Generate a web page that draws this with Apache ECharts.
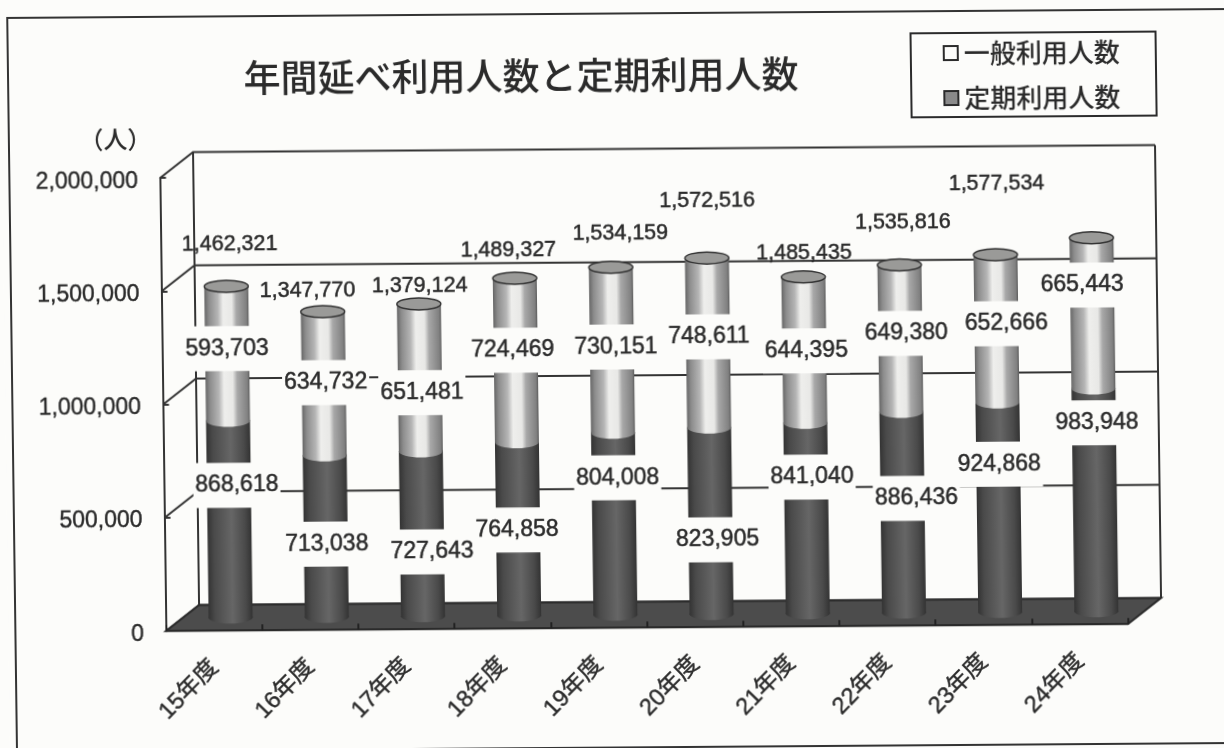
<!DOCTYPE html>
<html>
<head>
<meta charset="utf-8" />
<title>年間延べ利用人数と定期利用人数</title>
<script src="https://cdn.jsdelivr.net/npm/echarts@6/dist/echarts.min.js"></script>
<style>
  html, body { margin: 0; padding: 0; width: 1224px; height: 748px; overflow: hidden; background: #fcfcfa; }
  /* the scan is slightly crooked, so the whole drawing leans with it */
  #chart { width: 1300px; height: 790px; transform-origin: 0 0; transform: matrix(1, -0.0073, 0.0133, 1, 0, 0); }
</style>
</head>
<body>
<div id="chart"></div>
<script>
const categories = ["15年度", "16年度", "17年度", "18年度", "19年度", "20年度", "21年度", "22年度", "23年度", "24年度"];
const teikiValues = [868618, 713038, 727643, 764858, 804008, 823905, 841040, 886436, 924868, 983948];
const ippanValues = [593703, 634732, 651481, 724469, 730151, 748611, 644395, 649380, 652666, 665443];
// the last year has no total printed in the picture
const totalValues = [1462321, 1347770, 1379124, 1489327, 1534159, 1572516, 1485435, 1535816, 1577534, null];
const yTicks = [0, 500000, 1000000, 1500000, 2000000];

// label offsets in px, each from the bar centre / middle of its segment / top of the bar
const teikiOffsets = [[8, -34], [1, 8], [10, 18], [-1, 1], [4, -46], [7, 19], [6, -41], [14, -14], [1, -43], [3, -77]];
const ippanOffsets = [[0, -5], [2, -1], [2, 15], [-3, -10], [4, -3], [1, -6], [2, 1], [6, -5], [10, -5], [-10, -28]];
const totalOffsets = [[4, -42], [-15, -21], [1, -18], [-6, -28], [10, -34], [1, -57], [1, -24], [4, -42], [2, -71], [0, 0]];

const PAPER = "#fcfcfa";
const INK = "#2b2b2b";
const FONT = '"Liberation Sans", "Noto Sans CJK JP", sans-serif';
const CJK_FONT = '"Noto Sans CJK JP", sans-serif';
const DEPTH_X = 33.4;
const DEPTH_Y = -25.8;
const BAR_WIDTH = 44;
const RY = 6;

const chart = echarts.init(document.getElementById("chart"));
const fmt = (v) => v.toLocaleString("en-US");

const ippanFill = new echarts.graphic.LinearGradient(0, 0, 1, 0, [
  { offset: 0, color: "#666666" },
  { offset: 0.1, color: "#8c8c8c" },
  { offset: 0.3, color: "#b5b5b5" },
  { offset: 0.42, color: "#eeeeec" },
  { offset: 0.62, color: "#e8e8e6" },
  { offset: 0.72, color: "#a8a8a8" },
  { offset: 0.95, color: "#808080" },
  { offset: 1, color: "#5c5c5c" },
]);
const teikiFill = new echarts.graphic.LinearGradient(0, 0, 1, 0, [
  { offset: 0, color: "#333333" },
  { offset: 0.15, color: "#4a4a4a" },
  { offset: 0.55, color: "#666666" },
  { offset: 0.85, color: "#4a4a4a" },
  { offset: 1, color: "#333333" },
]);

// bars stand half way between the front plane of the axes and the back wall
function barPoint(api, i, value) {
  const p = api.coord([i, value]);
  return [p[0] + DEPTH_X / 2, p[1] + DEPTH_Y / 2];
}

function cylinder(fill, withCap) {
  return function (params, api) {
    const i = api.value(0);
    const bottom = barPoint(api, i, api.value(1));
    const top = barPoint(api, i, api.value(2));
    const children = [
      {
        type: "ellipse",
        shape: { cx: bottom[0], cy: bottom[1], rx: BAR_WIDTH / 2, ry: RY },
        style: { fill: fill },
      },
      {
        type: "rect",
        shape: { x: bottom[0] - BAR_WIDTH / 2, y: top[1], width: BAR_WIDTH, height: bottom[1] - top[1] },
        style: { fill: fill },
      },
    ];
    if (withCap) {
      children.push({
        type: "ellipse",
        shape: { cx: top[0], cy: top[1], rx: BAR_WIDTH / 2, ry: RY },
        style: { fill: "#9a9a98", stroke: "#333333", lineWidth: 1.5 },
      });
    }
    return { type: "group", children: children };
  };
}

function wallLine(params, api) {
  const p = api.coord([0, api.value(0)]);
  const s = params.coordSys;
  const backY = p[1] + DEPTH_Y;
  return {
    type: "polyline",
    shape: { points: [[s.x, p[1]], [s.x + DEPTH_X, backY], [s.x + s.width + DEPTH_X, backY]] },
    style: { fill: null, stroke: "#333333", lineWidth: 2 },
  };
}

function wallFrame(params) {
  const s = params.coordSys;
  const bottom = s.y + s.height;
  return {
    type: "group",
    children: [
      {
        type: "polyline",
        shape: { points: [[s.x + DEPTH_X, s.y + DEPTH_Y], [s.x + DEPTH_X, bottom + DEPTH_Y]] },
        style: { fill: null, stroke: "#333333", lineWidth: 2 },
      },
      {
        type: "polyline",
        shape: { points: [[s.x + s.width + DEPTH_X, s.y + DEPTH_Y], [s.x + s.width + DEPTH_X, bottom + DEPTH_Y]] },
        style: { fill: null, stroke: "#333333", lineWidth: 2 },
      },
      {
        type: "polygon",
        shape: {
          points: [
            [s.x, bottom],
            [s.x + DEPTH_X, bottom + DEPTH_Y],
            [s.x + s.width + DEPTH_X, bottom + DEPTH_Y],
            [s.x + s.width, bottom],
          ],
        },
        style: { fill: "#4c4c4c", stroke: "#2b2b2b", lineWidth: 2 },
      },
    ],
  };
}

function valueLabel(fontSize, offsets, boxed) {
  return function (params, api) {
    const i = api.value(0);
    const anchor = barPoint(api, i, api.value(1));
    const offset = offsets[i];
    const style = {
      text: fmt(api.value(2)),
      x: anchor[0] + offset[0],
      y: anchor[1] + offset[1],
      align: "center",
      verticalAlign: "middle",
      font: fontSize + "px " + FONT,
      fill: INK,
      stroke: INK,
      lineWidth: 0.5,
    };
    if (boxed) {
      // the printed figures sit on white patches that cut the bars and lines
      style.backgroundColor = PAPER;
      style.padding = [11, 2];
    }
    return { type: "text", style: style };
  };
}

// [index, anchor value, shown value]
const teikiLabels = teikiValues.map((v, i) => [i, v / 2, v]);
const ippanLabels = ippanValues.map((v, i) => [i, teikiValues[i] + v / 2, v]);
const totalLabels = [];
totalValues.forEach((v, i) => {
  if (v !== null) totalLabels.push([i, v, v]);
});

const option = {
  backgroundColor: PAPER,
  animation: false,
  title: {
    text: "年間延べ利用人数と定期利用人数",
    left: 515,
    top: 75,
    textAlign: "center",
    textVerticalAlign: "middle",
    textStyle: { fontFamily: CJK_FONT, fontSize: 37, fontWeight: 500, color: INK },
  },
  graphic: [
    {
      type: "rect",
      z: -1,
      shape: { x: 7, y: 18, width: 1320, height: 734 },
      style: { fill: null, stroke: "#333333", lineWidth: 2 },
    },
  ],
  legend: {
    orient: "vertical",
    left: 910,
    top: 40,
    padding: [7, 36, 6, 32],
    itemGap: 19,
    itemWidth: 14,
    itemHeight: 14,
    itemStyle: { borderWidth: 2, borderColor: INK },
    borderColor: "#2b2b2b",
    borderWidth: 2,
    textStyle: { fontFamily: CJK_FONT, fontSize: 26, fontWeight: 500, color: INK, padding: [0, 0, 0, 1] },
    data: [
      { name: "一般利用人数", icon: "rect", itemStyle: { color: PAPER, borderColor: INK, borderWidth: 2 } },
      { name: "定期利用人数", icon: "rect", itemStyle: { color: "#8a8a8a", borderColor: INK, borderWidth: 2 } },
    ],
  },
  grid: { left: 157.6, top: 179.2, width: 962, height: 453 },
  xAxis: {
    type: "category",
    data: categories,
    z: 3,
    axisLine: { lineStyle: { color: "#2b2b2b", width: 2 } },
    axisTick: { show: true, inside: true, length: 6, lineStyle: { color: "#222222", width: 2 } },
    axisLabel: {
      interval: 0,
      rotate: 45,
      margin: 33,
      fontFamily: FONT,
      fontSize: 23.5,
      color: INK,
      textBorderColor: INK,
      textBorderWidth: 0.4,
    },
  },
  yAxis: {
    type: "value",
    min: 0,
    max: 2000000,
    interval: 500000,
    name: "（人）",
    nameLocation: "end",
    nameGap: 27,
    nameTextStyle: { fontFamily: CJK_FONT, fontSize: 24, fontWeight: 500, color: INK, align: "right", padding: [0, 8, 0, 0] },
    axisLine: { show: true, lineStyle: { color: "#333333", width: 2 } },
    axisTick: { show: true, inside: true, length: 6, lineStyle: { color: "#333333", width: 2 } },
    axisLabel: {
      margin: 22,
      verticalAlign: "top",
      lineHeight: 6,
      fontFamily: FONT,
      fontSize: 23,
      color: INK,
      textBorderColor: INK,
      textBorderWidth: 0.4,
      formatter: (v) => fmt(v),
    },
    splitLine: { show: false },
  },
  series: [
    {
      name: "wallLines",
      type: "custom",
      z: 1,
      silent: true,
      renderItem: wallLine,
      encode: { x: 1, y: 0 },
      data: yTicks.map((v) => [v, 0]),
    },
    {
      name: "wallFrame",
      type: "custom",
      z: 2,
      silent: true,
      renderItem: wallFrame,
      encode: { x: 1, y: 0 },
      data: [[0, 0]],
    },
    {
      name: "定期利用人数",
      type: "custom",
      z: 4,
      itemStyle: { color: "#8a8a8a" },
      renderItem: cylinder(teikiFill, false),
      encode: { x: 0, y: 2 },
      data: teikiValues.map((v, i) => [i, 0, v]),
    },
    {
      name: "一般利用人数",
      type: "custom",
      z: 5,
      itemStyle: { color: PAPER },
      renderItem: cylinder(ippanFill, true),
      encode: { x: 0, y: 2 },
      data: ippanValues.map((v, i) => [i, teikiValues[i], teikiValues[i] + v]),
    },
    {
      name: "teikiLabels",
      type: "custom",
      z: 6,
      silent: true,
      renderItem: valueLabel(23, teikiOffsets, true),
      encode: { x: 0, y: 1 },
      data: teikiLabels,
    },
    {
      name: "ippanLabels",
      type: "custom",
      z: 6,
      silent: true,
      renderItem: valueLabel(23, ippanOffsets, true),
      encode: { x: 0, y: 1 },
      data: ippanLabels,
    },
    {
      name: "totalLabels",
      type: "custom",
      z: 7,
      silent: true,
      renderItem: valueLabel(21.5, totalOffsets, false),
      encode: { x: 0, y: 1 },
      data: totalLabels,
    },
  ],
};

chart.setOption(option);
</script>
</body>
</html>
